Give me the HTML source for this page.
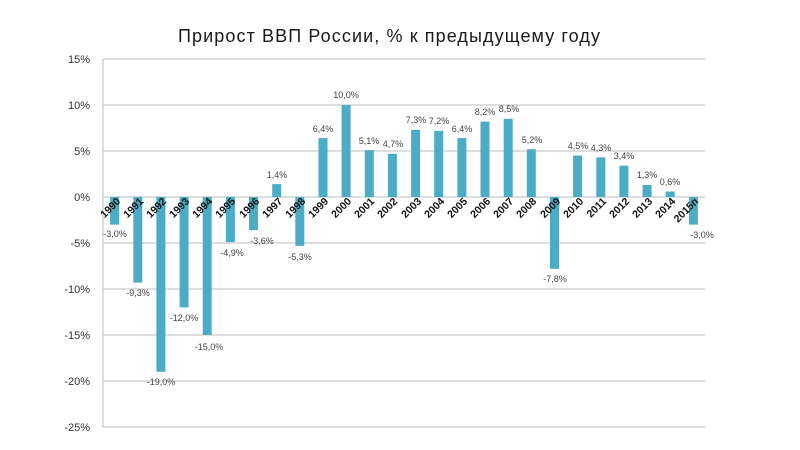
<!DOCTYPE html>
<html><head><meta charset="utf-8"><style>
html,body{margin:0;padding:0;background:#fff;}
svg{display:block;font-family:"Liberation Sans","DejaVu Sans",sans-serif;}
.yl{font-size:11px;fill:#333;text-anchor:end;}
.vl{font-size:9px;fill:#444;text-anchor:middle;}
.xl{font-size:10.5px;fill:#111;font-weight:bold;text-anchor:end;}
</style></head><body>
<svg width="800" height="450" viewBox="0 0 800 450">
<text x="389" y="42" font-size="18" fill="#1a1a1a" text-anchor="middle" textLength="422">Прирост ВВП России, % к предыдущему году</text>
<g stroke="#bdbdbd" stroke-width="1">
<line x1="103" y1="59" x2="705" y2="59"/><line x1="103" y1="105" x2="705" y2="105"/>
<line x1="103" y1="151" x2="705" y2="151"/><line x1="103" y1="197" x2="705" y2="197"/>
<line x1="103" y1="243" x2="705" y2="243"/><line x1="103" y1="289" x2="705" y2="289"/>
<line x1="103" y1="335" x2="705" y2="335"/><line x1="103" y1="381" x2="705" y2="381"/>
<line x1="103" y1="427" x2="705" y2="427"/><line x1="103" y1="59" x2="103" y2="427"/>
</g>
<g class="yl">
<text x="90" y="63">15%</text><text x="90" y="109">10%</text><text x="90" y="155">5%</text>
<text x="90" y="201">0%</text><text x="90" y="247">-5%</text><text x="90" y="293">-10%</text>
<text x="90" y="339">-15%</text><text x="90" y="385">-20%</text><text x="90" y="431">-25%</text>
</g>
<g fill="#4bacc6">
<rect x="110.1" y="197" width="9" height="27.6"/>
<rect x="133.3" y="197" width="9" height="85.6"/>
<rect x="156.4" y="197" width="9" height="174.8"/>
<rect x="179.6" y="197" width="9" height="110.4"/>
<rect x="202.7" y="197" width="9" height="138"/>
<rect x="225.9" y="197" width="9" height="45.1"/>
<rect x="249" y="197" width="9" height="33.1"/>
<rect x="272.2" y="184.1" width="9" height="12.9"/>
<rect x="295.3" y="197" width="9" height="48.8"/>
<rect x="318.5" y="138.1" width="9" height="58.9"/>
<rect x="341.6" y="105" width="9" height="92"/>
<rect x="364.8" y="150.1" width="9" height="46.9"/>
<rect x="387.9" y="153.8" width="9" height="43.2"/>
<rect x="411.1" y="129.8" width="9" height="67.2"/>
<rect x="434.2" y="130.8" width="9" height="66.2"/>
<rect x="457.4" y="138.1" width="9" height="58.9"/>
<rect x="480.5" y="121.6" width="9" height="75.4"/>
<rect x="503.7" y="118.8" width="9" height="78.2"/>
<rect x="526.8" y="149.2" width="9" height="47.8"/>
<rect x="550" y="197" width="9" height="71.8"/>
<rect x="573.1" y="155.6" width="9" height="41.4"/>
<rect x="596.3" y="157.4" width="9" height="39.6"/>
<rect x="619.4" y="165.7" width="9" height="31.3"/>
<rect x="642.6" y="185" width="9" height="12"/>
<rect x="665.7" y="191.5" width="9" height="5.5"/>
<rect x="688.9" y="197" width="9" height="27.6"/>
</g>
<g class="vl">
<text x="115" y="237">-3,0%</text>
<text x="138" y="296">-9,3%</text>
<text x="161" y="385">-19,0%</text>
<text x="184" y="321">-12,0%</text>
<text x="209" y="350">-15,0%</text>
<text x="232" y="256">-4,9%</text>
<text x="262" y="244">-3,6%</text>
<text x="277" y="178">1,4%</text>
<text x="300" y="260">-5,3%</text>
<text x="323" y="132">6,4%</text>
<text x="346" y="98">10,0%</text>
<text x="369" y="144">5,1%</text>
<text x="393" y="147">4,7%</text>
<text x="416" y="123">7,3%</text>
<text x="439" y="124">7,2%</text>
<text x="462" y="132">6,4%</text>
<text x="485" y="115">8,2%</text>
<text x="509" y="112">8,5%</text>
<text x="532" y="143">5,2%</text>
<text x="555" y="282">-7,8%</text>
<text x="578" y="149">4,5%</text>
<text x="601" y="151">4,3%</text>
<text x="624" y="159">3,4%</text>
<text x="647" y="178">1,3%</text>
<text x="670" y="185">0,6%</text>
<text x="702" y="238">-3,0%</text>
</g>
<g class="xl">
<text transform="translate(121,202) rotate(-45)">1990</text>
<text transform="translate(144,202) rotate(-45)">1991</text>
<text transform="translate(167,202) rotate(-45)">1992</text>
<text transform="translate(190,202) rotate(-45)">1993</text>
<text transform="translate(213,202) rotate(-45)">1994</text>
<text transform="translate(236,202) rotate(-45)">1995</text>
<text transform="translate(260,202) rotate(-45)">1996</text>
<text transform="translate(283,202) rotate(-45)">1997</text>
<text transform="translate(306,202) rotate(-45)">1998</text>
<text transform="translate(329,202) rotate(-45)">1999</text>
<text transform="translate(352,202) rotate(-45)">2000</text>
<text transform="translate(375,202) rotate(-45)">2001</text>
<text transform="translate(398,202) rotate(-45)">2002</text>
<text transform="translate(422,202) rotate(-45)">2003</text>
<text transform="translate(445,202) rotate(-45)">2004</text>
<text transform="translate(468,202) rotate(-45)">2005</text>
<text transform="translate(491,202) rotate(-45)">2006</text>
<text transform="translate(514,202) rotate(-45)">2007</text>
<text transform="translate(537,202) rotate(-45)">2008</text>
<text transform="translate(561,202) rotate(-45)">2009</text>
<text transform="translate(584,202) rotate(-45)">2010</text>
<text transform="translate(607,202) rotate(-45)">2011</text>
<text transform="translate(630,202) rotate(-45)">2012</text>
<text transform="translate(653,202) rotate(-45)">2013</text>
<text transform="translate(676,202) rotate(-45)">2014</text>
<text transform="translate(699,202) rotate(-45)">2015п</text>
</g>
</svg>
</body></html>
